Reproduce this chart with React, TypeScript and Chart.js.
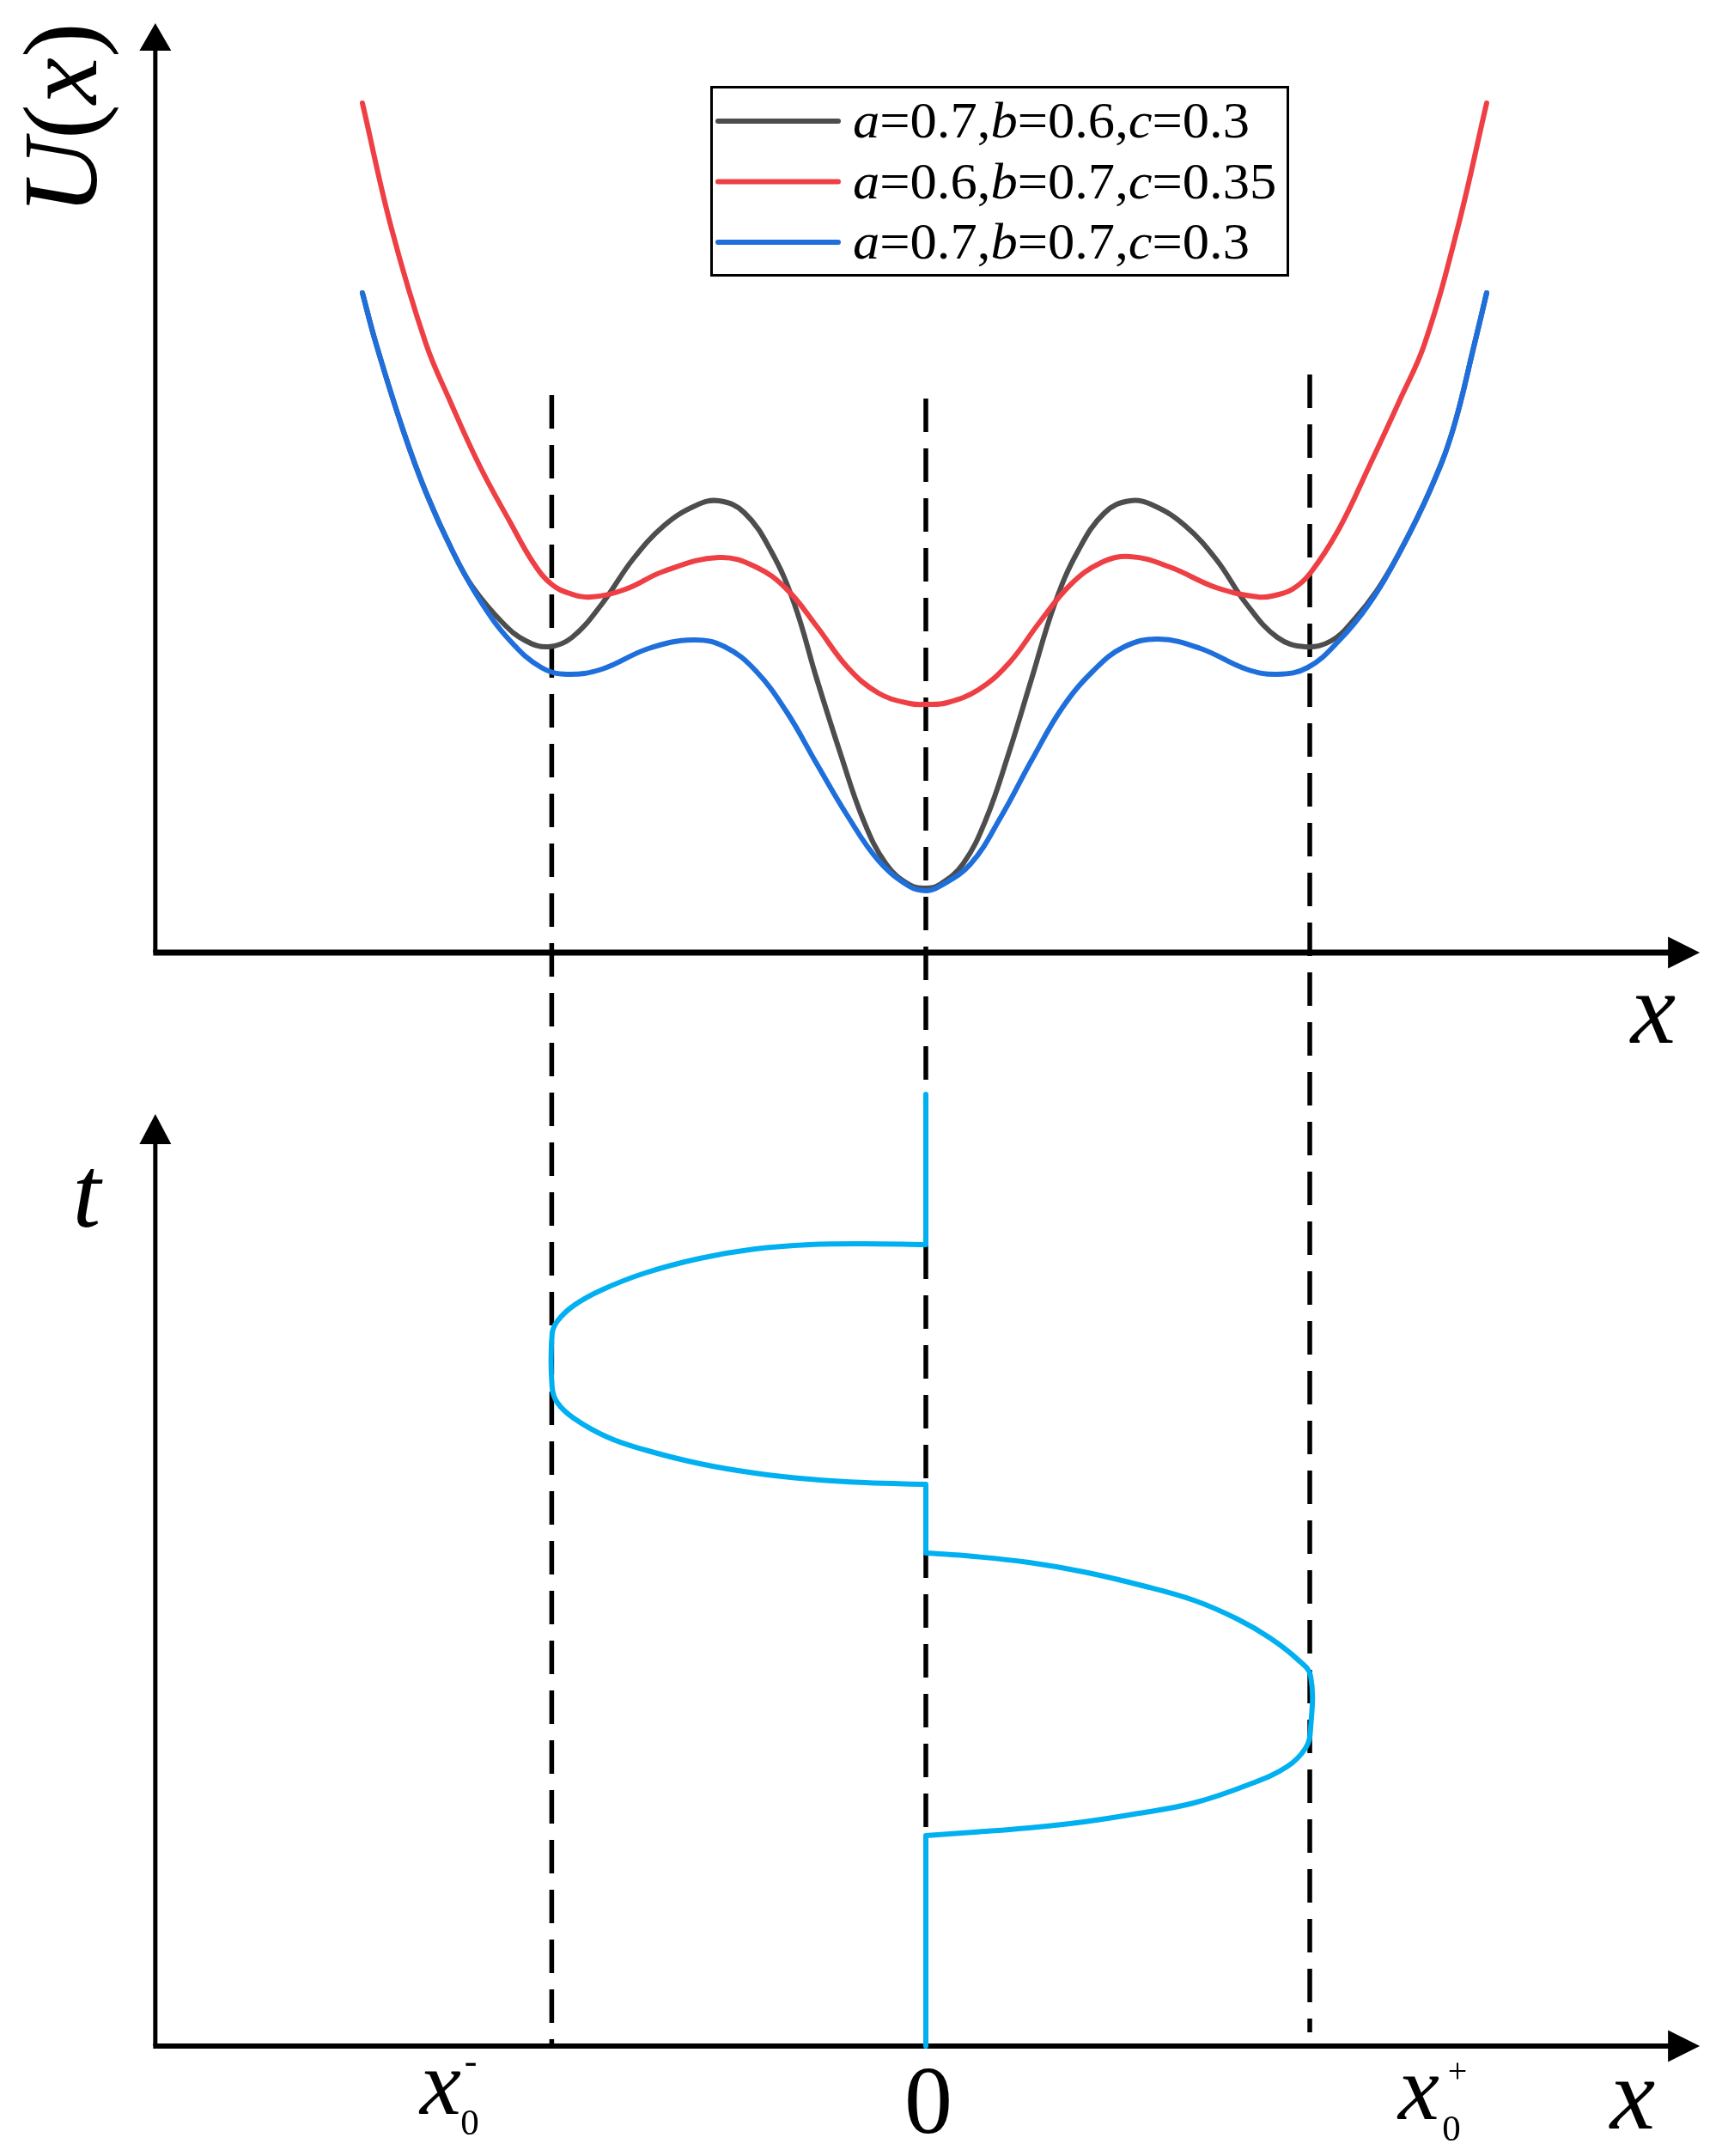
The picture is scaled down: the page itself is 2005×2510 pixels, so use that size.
import React, { useEffect, useRef } from 'react';
import { Chart, registerables } from 'chart.js';

Chart.register(...registerables);

// ---------------- data ----------------
// Potential curves U(x): x in units where x0- ≈ -0.99, x0+ ≈ 1.02
const blackX = [-1.491, -1.455, -1.384, -1.323, -1.252, -1.2, -1.12, -1.059, -0.998, -0.936, -0.857, -0.775, -0.693, -0.611, -0.548, -0.48, -0.409, -0.348, -0.289, -0.227, -0.166, -0.105, -0.043, 0.002, 0.036, 0.098, 0.159, 0.22, 0.28, 0.341, 0.402, 0.473, 0.541, 0.605, 0.686, 0.768, 0.848, 0.93, 1.005, 1.073, 1.132, 1.193, 1.255, 1.336, 1.395, 1.452, 1.484];
const blackU = [7.68, 7.09, 6.09, 5.36, 4.67, 4.26, 3.84, 3.63, 3.56, 3.67, 4.06, 4.58, 4.97, 5.2, 5.26, 5.12, 4.67, 4.06, 3.19, 2.33, 1.55, 1.03, 0.79, 0.75, 0.79, 1.03, 1.55, 2.33, 3.19, 4.06, 4.67, 5.12, 5.26, 5.2, 4.97, 4.58, 4.06, 3.67, 3.56, 3.63, 3.87, 4.21, 4.67, 5.4, 6.09, 7.09, 7.68];

const redX = [-1.491, -1.414, -1.323, -1.261, -1.18, -1.1, -1.039, -0.991, -0.941, -0.886, -0.795, -0.693, -0.548, -0.45, -0.368, -0.289, -0.207, -0.125, -0.043, 0.002, 0.057, 0.139, 0.22, 0.3, 0.382, 0.464, 0.541, 0.645, 0.768, 0.88, 0.925, 0.97, 1.016, 1.093, 1.173, 1.255, 1.32, 1.407, 1.484];
const redU = [9.89, 8.43, 7.09, 6.44, 5.66, 5.01, 4.54, 4.29, 4.18, 4.14, 4.23, 4.44, 4.6, 4.49, 4.23, 3.8, 3.32, 3.02, 2.9, 2.89, 2.91, 3.06, 3.37, 3.84, 4.28, 4.54, 4.61, 4.49, 4.25, 4.14, 4.16, 4.23, 4.41, 4.93, 5.66, 6.44, 7.09, 8.43, 9.89];

const blueX = [-1.491, -1.455, -1.384, -1.323, -1.252, -1.18, -1.1, -1.018, -0.95, -0.857, -0.734, -0.616, -0.532, -0.45, -0.368, -0.289, -0.207, -0.125, -0.043, 0.002, 0.036, 0.118, 0.2, 0.28, 0.361, 0.443, 0.525, 0.616, 0.727, 0.848, 0.93, 1.011, 1.093, 1.173, 1.255, 1.336, 1.395, 1.452, 1.484];
const blueU = [7.68, 7.09, 6.09, 5.36, 4.67, 4.1, 3.63, 3.32, 3.24, 3.3, 3.54, 3.64, 3.56, 3.28, 2.8, 2.2, 1.59, 1.07, 0.77, 0.72, 0.77, 1.03, 1.59, 2.24, 2.85, 3.28, 3.56, 3.65, 3.54, 3.3, 3.24, 3.32, 3.63, 4.06, 4.67, 5.4, 6.09, 7.09, 7.68];

const seriesLabels = ['a=0.7,b=0.6,c=0.3', 'a=0.6,b=0.7,c=0.35', 'a=0.7,b=0.7,c=0.3'];
const seriesColors = ['#4d4d4d', '#ee3f44', '#1e6fdc'];

// Trajectory x(t) in the lower panel
const stem1X = [0, 0];
const stem1T = [11.08, 9.33];
const arc1X = [0, -0.161, -0.307, -0.452, -0.598, -0.743, -0.859, -0.932, -0.975, -0.989, -0.989, -0.975, -0.932, -0.843, -0.743, -0.598, -0.452, -0.307, -0.161, 0];
const arc1T = [9.33, 9.34, 9.33, 9.28, 9.17, 9.0, 8.8, 8.62, 8.44, 8.29, 7.67, 7.49, 7.31, 7.09, 6.94, 6.78, 6.67, 6.6, 6.56, 6.54];
const stem2X = [0, 0];
const stem2T = [6.54, 5.74];
const arc2X = [0, 0.127, 0.273, 0.418, 0.564, 0.709, 0.825, 0.911, 0.984, 1.018, 1.018, 1.005, 0.955, 0.852, 0.709, 0.564, 0.418, 0.273, 0.127, 0];
const arc2T = [5.74, 5.7, 5.63, 5.52, 5.37, 5.19, 4.97, 4.75, 4.5, 4.31, 3.69, 3.47, 3.25, 3.04, 2.83, 2.71, 2.61, 2.54, 2.49, 2.45];
const stem3X = [0, 0];
const stem3T = [2.45, 0];
const trajColor = '#00b0f0';

// Dashed guide lines at x0-, 0, x0+ (extent in t units)
const guideX = [-0.99, 0, 1.016];
const guideTopT = [19.22, 19.18, 19.46];
const guideBottomT = [0, 0, 0.16];

// Labels
const yLabelTop = 'U(x)';
const yLabelBottom = 't';
const xAxisLabel = 'x';
const xTickLabels = [
  { base: 'x', sub: '0', sup: '-' },
  { base: '0', sub: '', sup: '' },
  { base: 'x', sub: '0', sup: '+' },
];

// ---------------- layout / scale config ----------------
const W = 2005;
const H = 2510;
const X_MIN = -2.45;
const X_MAX = X_MIN + W / 440;
const U_MAX = 11.09;
const U_MIN = U_MAX - H / 100;
const T_MAX = 23.82;
const T_MIN = T_MAX - H / 100;
const AXIS_X0 = -2.039;
const AXIS_X1 = 2.048;
const U_AXIS_TOP = 10.82;
const T_AXIS_TOP = 10.85;

const SERIF = '"Liberation Serif", "Times New Roman", serif';
const fontOf = (italic: boolean, size: number) => `${italic ? 'italic ' : ''}${size}px ${SERIF}`;

function richText(ctx: any, text: string, x: number, y: number, size: number, align: string, sx = 1) {
  const parts = [...text].map((ch) => ({ ch, it: /[A-Za-z]/.test(ch) }));
  const widths = parts.map((p) => {
    ctx.font = fontOf(p.it, size);
    return ctx.measureText(p.ch).width;
  });
  const total = widths.reduce((a, b) => a + b, 0) * sx;
  const startX = align === 'center' ? x - total / 2 : x;
  ctx.save();
  ctx.textAlign = 'left';
  ctx.textBaseline = 'alphabetic';
  ctx.translate(startX, y);
  ctx.scale(sx, 1);
  let off = 0;
  parts.forEach((p, i) => {
    ctx.font = fontOf(p.it, size);
    ctx.fillText(p.ch, off, 0);
    off += widths[i];
  });
  ctx.restore();
  return total;
}

function measureRich(ctx: any, text: string, size: number) {
  let w = 0;
  for (const ch of text) {
    ctx.font = fontOf(/[A-Za-z]/.test(ch), size);
    w += ctx.measureText(ch).width;
  }
  return w;
}

function drawAxisPair(ctx: any, ox: number, oy: number, xEnd: number, yEnd: number, xw: number, yw: number, ly: number) {
  const L = 37;
  const HW = 18.5;
  ctx.save();
  ctx.fillStyle = '#000';
  ctx.strokeStyle = '#000';
  ctx.lineCap = 'butt';
  ctx.lineWidth = xw;
  ctx.beginPath();
  ctx.moveTo(ox - yw / 2, oy);
  ctx.lineTo(xEnd - L + 2, oy);
  ctx.stroke();
  ctx.beginPath();
  ctx.moveTo(xEnd, oy);
  ctx.lineTo(xEnd - L, oy - HW);
  ctx.lineTo(xEnd - L, oy + HW);
  ctx.closePath();
  ctx.fill();
  ctx.lineWidth = yw;
  ctx.beginPath();
  ctx.moveTo(ox, oy);
  ctx.lineTo(ox, yEnd + ly - 2);
  ctx.stroke();
  ctx.beginPath();
  ctx.moveTo(ox, yEnd);
  ctx.lineTo(ox - HW, yEnd + ly);
  ctx.lineTo(ox + HW, yEnd + ly);
  ctx.closePath();
  ctx.fill();
  ctx.restore();
}

const overlayPlugin = {
  id: 'overlay',
  beforeDraw(chart: any) {
    const ctx = chart.ctx;
    ctx.save();
    ctx.fillStyle = '#ffffff';
    ctx.fillRect(0, 0, chart.width, chart.height);
    ctx.restore();
  },
  beforeDatasetsDraw(chart: any) {
    const { ctx, scales } = chart;
    const px = (v: number) => scales.x.getPixelForValue(v);
    const pu = (v: number) => scales.yU.getPixelForValue(v);
    const pt = (v: number) => scales.yT.getPixelForValue(v);
    drawAxisPair(ctx, px(AXIS_X0), pu(0), px(AXIS_X1), pu(U_AXIS_TOP), 7, 5, 32);
    drawAxisPair(ctx, px(AXIS_X0), pt(0), px(AXIS_X1), pt(T_AXIS_TOP), 6, 5, 35);
  },
  afterDraw(chart: any) {
    const ctx = chart.ctx;
    ctx.save();
    ctx.fillStyle = '#000';

    // Legend box
    ctx.strokeStyle = '#000';
    ctx.lineWidth = 3;
    ctx.strokeRect(828.5, 101.5, 671, 219);
    const legendSize = 59;
    const sx = 462 / measureRich(ctx, seriesLabels[0], legendSize);
    seriesLabels.forEach((lab, i) => {
      const ly = 141 + i * 70.5;
      ctx.strokeStyle = seriesColors[i];
      ctx.lineWidth = 6;
      ctx.lineCap = 'round';
      ctx.beginPath();
      ctx.moveTo(836, ly);
      ctx.lineTo(976, ly);
      ctx.stroke();
      ctx.fillStyle = '#000';
      richText(ctx, lab, 993, ly + 19, legendSize, 'left', sx);
    });

    // U(x) rotated label
    ctx.save();
    ctx.translate(112, 250);
    ctx.rotate(-Math.PI / 2);
    richText(ctx, yLabelTop, 0, 0, 122, 'left');
    ctx.restore();

    // t label
    richText(ctx, yLabelBottom, 101, 1428, 118, 'center');

    // x axis labels
    richText(ctx, xAxisLabel, 1925, 1214, 118, 'center');
    richText(ctx, xAxisLabel, 1901, 2478, 118, 'center');

    // tick labels
    const tickPos = [
      { bx: 513, by: 2461, sx: 547, sy: 2485, ux: 548, uy: 2414 },
      { bx: 1081, by: 2483, sx: 0, sy: 0, ux: 0, uy: 0 },
      { bx: 1652, by: 2467, sx: 1690, sy: 2492, ux: 1697, uy: 2424 },
    ];
    xTickLabels.forEach((t, i) => {
      const p = tickPos[i];
      const isX = /[A-Za-z]/.test(t.base);
      richText(ctx, t.base, p.bx, p.by, isX ? 108 : 112, 'center');
      if (t.sub) richText(ctx, t.sub, p.sx, p.sy, 43, 'center');
      if (t.sup) richText(ctx, t.sup, p.ux, p.uy, t.sup === '-' ? 44 : 40, 'center');
    });
    ctx.restore();
  },
};

const pts = (xs: number[], ys: number[]) => xs.map((x, i) => ({ x, y: ys[i] }));

function makeConfig(): any {
  const curveBase = {
    yAxisID: 'yU',
    borderWidth: 6,
    pointRadius: 0,
    fill: false,
    tension: 0.4,
    borderCapStyle: 'round',
    borderJoinStyle: 'round',
  };
  const trajBase = {
    yAxisID: 'yT',
    borderColor: trajColor,
    borderWidth: 6,
    pointRadius: 0,
    fill: false,
    borderCapStyle: 'butt',
    borderJoinStyle: 'round',
    order: 0,
  };
  const guides = guideX.map((gx, i) => ({
    yAxisID: 'yT',
    data: [
      { x: gx, y: guideTopT[i] },
      { x: gx, y: guideBottomT[i] },
    ],
    borderColor: '#000',
    borderWidth: 5.5,
    borderDash: [39, 19],
    borderCapStyle: 'butt',
    pointRadius: 0,
    fill: false,
    tension: 0,
    order: 10,
  }));
  return {
    type: 'line',
    data: {
      datasets: [
        { ...curveBase, label: seriesLabels[0], data: pts(blackX, blackU), borderColor: seriesColors[0], order: 3 },
        { ...curveBase, label: seriesLabels[1], data: pts(redX, redU), borderColor: seriesColors[1], order: 2 },
        { ...curveBase, label: seriesLabels[2], data: pts(blueX, blueU), borderColor: seriesColors[2], order: 1 },
        { ...trajBase, data: pts(stem1X, stem1T), tension: 0 },
        { ...trajBase, data: pts(arc1X, arc1T), tension: 0.4 },
        { ...trajBase, data: pts(stem2X, stem2T), tension: 0 },
        { ...trajBase, data: pts(arc2X, arc2T), tension: 0.4 },
        { ...trajBase, data: pts(stem3X, stem3T), tension: 0 },
        ...guides,
      ],
    },
    options: {
      animation: false,
      responsive: false,
      devicePixelRatio: 1,
      events: [],
      layout: { padding: 0 },
      plugins: {
        legend: { display: false },
        tooltip: { enabled: false },
        title: { display: false },
      },
      scales: {
        x: { type: 'linear', min: X_MIN, max: X_MAX, display: false },
        yU: { type: 'linear', position: 'left', min: U_MIN, max: U_MAX, display: false },
        yT: { type: 'linear', position: 'left', min: T_MIN, max: T_MAX, display: false },
      },
    },
    plugins: [overlayPlugin],
  };
}

export default function App() {
  const ref = useRef<HTMLCanvasElement | null>(null);
  useEffect(() => {
    if (!ref.current) return;
    const chart = new Chart(ref.current, makeConfig());
    return () => chart.destroy();
  }, []);
  return (
    <div style={{ position: 'absolute', left: 0, top: 0, width: W, height: H, background: '#fff' }}>
      <canvas ref={ref} width={W} height={H} style={{ display: 'block', width: W, height: H }} />
    </div>
  );
}
